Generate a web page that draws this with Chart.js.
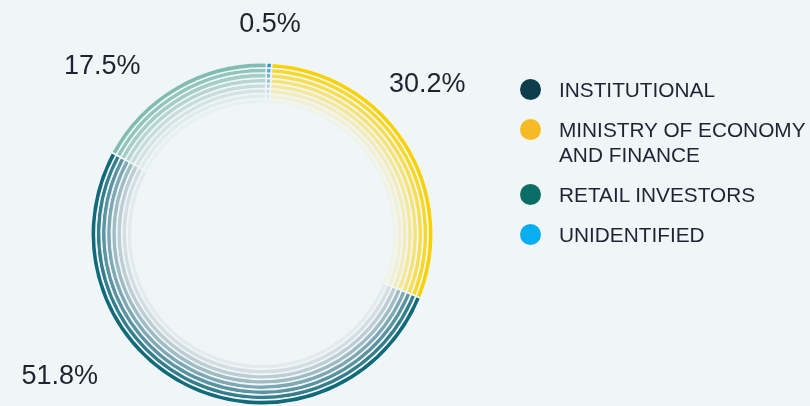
<!DOCTYPE html>
<html>
<head>
<meta charset="utf-8">
<script src="https://cdn.jsdelivr.net/npm/chart.js@4.4.1/dist/chart.umd.min.js"></script>
<style>
    html, body { margin: 0; padding: 0; background: #f0f5f7; }
    #wrap { position: relative; width: 810px; height: 406px; overflow: hidden; }
    #legend { position: absolute; left: 520px; top: 77px; width: 290px; font-family: "Liberation Sans", Arial, sans-serif; font-size: 20.8px; color: #1d2434; }
    .item { display: flex; align-items: flex-start; margin-bottom: 15px; }
    .dot { width: 21px; height: 21px; border-radius: 50%; margin-top: 2px; flex: none; }
    .txt { margin-left: 18px; line-height: 25px; width: 252px; }
</style>
</head>
<body>
<div id="wrap">
    <canvas id="grafico" width="810" height="406"></canvas>
    <div id="legend"></div>
</div>
<script>
// dados (ordem do gráfico, sentido horário a partir do topo)
const categorias = ['UNIDENTIFIED', 'MINISTRY OF ECONOMY AND FINANCE', 'INSTITUTIONAL', 'RETAIL INVESTORS'];
const percentuais = [0.5, 30.2, 51.8, 17.5];
const ordemLegenda = [2, 1, 3, 0];

// estilos
const corAnel = [[45, 150, 205], [248, 210, 0], [16, 106, 122], [128, 188, 178]];
const corFade = [[160, 195, 215], [250, 228, 120], [140, 162, 172], [185, 210, 208]];
const corLegenda = ['#08aef0', '#f6bb24', '#0d3c4b', '#0b6e66'];
const posRotulo = [[2.2, 1.216], [47.9, 1.294], [234.9, 1.435], [316.3, 1.342]]; // [ângulo, raio relativo]
const fundo = '#f0f5f7';
const nAneis = 8;

function corDoAnel(k, i) {
    const t = i / (nAneis - 1);
    const m = Math.min(1, t * 1.1);
    const rgb = corAnel[k].map((c, j) => Math.round(c + (corFade[k][j] - c) * m));
    const a = 1 - 0.88 * Math.pow(t, 1.2);
    return `rgba(${rgb.join(',')},${a.toFixed(3)})`;
}

// um dataset por anel, do externo para o interno
const datasets = [];
for (let i = 0; i < nAneis; i++) {
    datasets.push({
        data: percentuais,
        backgroundColor: categorias.map((c, k) => corDoAnel(k, i)),
        borderColor: fundo,
        borderWidth: 1.6,
        hoverOffset: 0
    });
}

// rótulos percentuais
const rotulos = {
    id: 'rotulos',
    afterDatasetsDraw(chart) {
        const arco = chart.getDatasetMeta(0).data[0];
        const { x, y, outerRadius } = arco.getProps(['x', 'y', 'outerRadius'], true);
        const ctx = chart.ctx;
        ctx.save();
        ctx.font = '27px "Liberation Sans", Arial, sans-serif';
        ctx.fillStyle = '#1e2330';
        ctx.textAlign = 'center';
        ctx.textBaseline = 'middle';
        percentuais.forEach((v, k) => {
            const ang = posRotulo[k][0] * Math.PI / 180;
            const r = (outerRadius + 1) * posRotulo[k][1];
            ctx.fillText(v.toFixed(1) + '%', x + r * Math.sin(ang), y - r * Math.cos(ang));
        });
        ctx.restore();
    }
};

new Chart(document.getElementById('grafico').getContext('2d'), {
    type: 'doughnut',
    data: { labels: categorias, datasets: datasets },
    options: {
        responsive: false,
        animation: false,
        cutout: '76%',
        rotation: 1.5,
        layout: { padding: { left: 90, top: 62, right: 376, bottom: 0 } },
        plugins: { legend: { display: false }, tooltip: { enabled: false } }
    },
    plugins: [rotulos]
});

// legenda em HTML
const legenda = document.getElementById('legend');
ordemLegenda.forEach(k => {
    const item = document.createElement('div');
    item.className = 'item';
    item.innerHTML = `<div class="dot" style="background:${corLegenda[k]}"></div><div class="txt">${categorias[k]}</div>`;
    legenda.appendChild(item);
});
</script>
</body>
</html>
